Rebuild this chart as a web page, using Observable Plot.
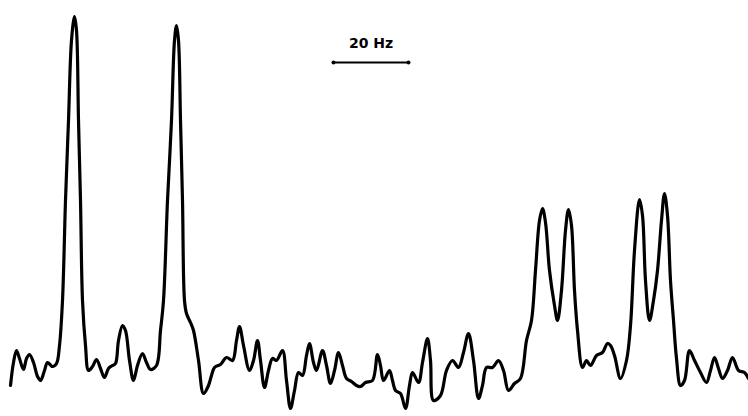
<!DOCTYPE html>
<html>
<head>
<meta charset="utf-8">
<script src="https://cdn.jsdelivr.net/npm/d3@7"></script>
<script src="https://cdn.jsdelivr.net/npm/@observablehq/plot@0.6"></script>
<style>
  html, body { margin: 0; padding: 0; background: #fff; }
</style>
</head>
<body>
<div id="chart"></div>
<script>
// Trace position (chart units along the frequency axis) and deflection (chart units, downward)
const freq = [10,13,16,19,23,26,29,33,37,40,44,47,52,56,59,62,65,68,71,74,76,78,80,82,85,88,92,96,100,104,108,112,115,118,122,125,129,133,137,142,146,150,156,160,163,167,171,174,176,178,180,182,184,186,190,193,198,203,208,211,214,220,226,232,236,239,243,249,253,257,260,264,268,272,276,282,286,290,294,298,302,306,309,313,316,322,326,330,334,338,342,346,351,356,360,365,372,377,380,383,389,392,395,400,405,409,412,418,422,427,430,433,440,446,452,458,463,468,473,478,482,486,492,498,503,508,514,520,526,531,535,539,542,545,549,554,557,561,565,568,571,574,577,582,586,590,596,602,607,610,614,620,626,630,634,639,642,645,649,653,657,661,664,667,670,673,676,680,684,689,694,700,706,710,714,718,722,727,732,738,744,748];
const level = [385,362,350,358,369,358,354,362,376,380,370,362,366,363,345,300,200,120,40,16,30,120,200,300,345,370,366,359,368,377,368,365,363,340,325,330,360,380,365,353,362,369,365,330,300,200,120,40,25,40,120,200,300,313,322,330,360,393,385,375,367,364,357,360,340,326,345,370,360,340,360,387,370,358,360,350,380,408,390,372,375,355,343,362,370,350,365,383,370,352,365,378,381,385,386,382,380,354,365,380,370,380,390,393,408,385,372,382,362,338,360,400,395,370,360,367,352,333,360,398,385,367,367,360,370,390,383,378,340,320,270,220,208,222,270,305,320,290,230,209,225,290,330,367,360,365,355,352,343,345,355,378,360,325,250,199,215,280,320,300,270,220,193,215,280,320,358,385,380,350,360,372,382,370,357,368,378,370,357,370,372,378];

// Scale bar
const barStart = [333];
const barEnd = [408];
const barLevel = [62];
const barLabel = ["20 Hz"];

try {
  const trace = freq.map((f, i) => ({f, v: level[i]}));
  const bar = barStart.map((s, i) => ({x1: s, x2: barEnd[i], y: barLevel[i], label: barLabel[i]}));
  const ends = bar.flatMap(d => [{x: d.x1, y: d.y}, {x: d.x2, y: d.y}]);

  const chart = Plot.plot({
    width: 748,
    height: 416,
    margin: 0,
    style: {background: "#fff"},
    x: {domain: [0, 748], axis: null},
    y: {domain: [0, 416], reverse: true, axis: null},
    marks: [
      Plot.line(trace, {x: "f", y: "v", stroke: "#000", strokeWidth: 3.2, curve: "catmull-rom", strokeLinejoin: "round", strokeLinecap: "round"}),
      Plot.ruleY(bar, {x1: "x1", x2: "x2", y: "y", stroke: "#000", strokeWidth: 2}),
      Plot.dot(ends, {x: "x", y: "y", r: 2, fill: "#000", stroke: null}),
      Plot.text(bar, {x: d => (d.x1 + d.x2) / 2, y: d => d.y - 19, text: "label", fontSize: 14, fontWeight: "bold", fontFamily: "DejaVu Sans, sans-serif", fill: "#000"})
    ]
  });
  document.getElementById("chart").appendChild(chart);
} catch (e) {
  document.getElementById("chart").textContent = "ERR: " + e + " " + (typeof Plot) + " " + (typeof d3);
}
</script>
</body>
</html>
